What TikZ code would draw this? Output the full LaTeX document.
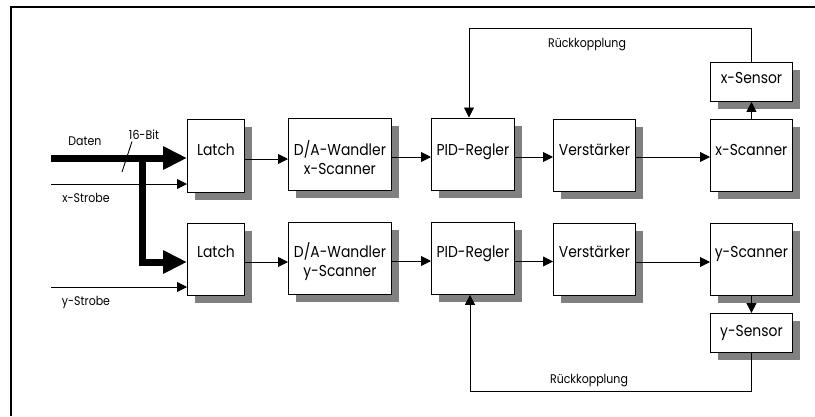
\documentclass[tikz,border=0pt]{standalone}
\usepackage{fontspec}
\setmainfont{Poppins}[FakeStretch=0.88]
\usetikzlibrary{arrows.meta,shadows}
\begin{document}
\begin{tikzpicture}[x=1pt,y=-1pt,
  blk/.style={draw=black, fill=white, line width=0.9pt, inner sep=0pt, anchor=north west,
    copy shadow={shadow xshift=8pt, shadow yshift=-8pt, fill=black!50, draw=none}},
  boxtext/.style={font=\fontsize{15.8}{19.5}\selectfont, align=center, inner sep=0pt, anchor=base},
  lbl/.style={font=\fontsize{12.5}{15}\selectfont, inner sep=0pt, anchor=base},
  wire/.style={line width=0.9pt},
  conn/.style={wire, -{Triangle[length=10pt,width=10pt]}},
  bus/.style={line width=7pt, -{Triangle[length=24pt,width=22pt]}},
]
\useasboundingbox (0,0) rectangle (815,416);
% open frame (left and top edges)
\draw[line width=2pt, line join=miter] (11,416) -- (11,6.5) -- (815,6.5);

% \blockbox{name}{left}{top}{right}{bottom}
\newcommand\blockbox[5]{%
  \node[blk, minimum width={(#4-#2)*1pt}, minimum height={(#5-#3)*1pt}] (#1) at (#2,#3) {};}

% upper channel
\blockbox{l1}{187}{119}{244}{192}
\blockbox{d1}{288}{117.5}{391}{190}
\blockbox{p1}{431}{117.5}{514}{190}
\blockbox{v1}{553}{118.5}{635}{191}
\blockbox{xs}{710}{118.5}{792}{191}
\blockbox{xsen}{710}{61.5}{792}{101}
% lower channel
\blockbox{l2}{187}{223}{244}{295}
\blockbox{d2}{288}{222}{391}{294}
\blockbox{p2}{431}{222}{514}{294}
\blockbox{v2}{553}{222.5}{635}{295}
\blockbox{ys}{710}{222.5}{792}{295}
\blockbox{ysen}{710}{313}{792}{352}

% block captions (two-line captions sit on the baseline of their last line)
\node[boxtext] (tl1) at (l1.center |- 0,155) {Latch};
\node[boxtext] (td1) at (d1.center |- 0,174.5) {D/A-Wandler\\x-Scanner};
\node[boxtext] (tp1) at (p1.center |- 0,155) {PID-Regler};
\node[boxtext] (tv1) at (v1.center |- 0,155) {Verstärker};
\node[boxtext] (txs) at (xs.center |- 0,155) {x-Scanner};
\node[boxtext] (txsen) at (xsen.center |- 0,83.5) {x-Sensor};
\node[boxtext] (tl2) at (l2.center |- 0,257) {Latch};
\node[boxtext] (td2) at (d2.center |- 0,276.5) {D/A-Wandler\\y-Scanner};
\node[boxtext] (tp2) at (p2.center |- 0,257) {PID-Regler};
\node[boxtext] (tv2) at (v2.center |- 0,257) {Verstärker};
\node[boxtext] (tys) at (ys.center |- 0,257) {y-Scanner};
\node[boxtext] (tysen) at (ysen.center |- 0,336) {y-Sensor};

% inputs
\coordinate (datin) at (51,158);
\coordinate (split) at (142,158);
\coordinate (xstr) at (51,184);
\coordinate (ystr) at (51,287);
\coordinate (slashA) at (132,141.5);
\coordinate (slashB) at (122,172);
\draw[bus] (datin) -- (l1.west |- datin);
\draw[bus, line join=miter] (split) |- (l2.west |- 0,262);
\draw[conn] (xstr) -- (l1.west |- xstr);
\draw[conn] (ystr) -- (l2.west |- ystr);
\draw[wire] (slashA) -- (slashB);
\node[lbl] (ldaten) at (85,145.3) {Daten};
\node[lbl] (lbit) at (144,139.3) {16-Bit};
\node[lbl] (lxstr) at (86,202) {x-Strobe};
\node[lbl] (lystr) at (86,305.3) {y-Strobe};

% signal chain, upper
\draw[conn] (l1.east |- 0,159) -- (d1.west |- 0,159);
\draw[conn] (d1.east |- 0,157) -- (p1.west |- 0,157);
\draw[conn] (p1.east |- 0,157) -- (v1.west |- 0,157);
\draw[conn] (v1.east |- 0,157) -- (xs.west |- 0,157);
\draw[conn] (xs.north) -- (xsen.south);
\draw[conn] (xsen.north) |- (469,28) -- (p1.north -| 469,0);
\node[lbl] (lfb1) at (587,47.3) {Rückkopplung};

% signal chain, lower
\draw[conn] (l2.east |- 0,262) -- (d2.west |- 0,262);
\draw[conn] (d2.east |- 0,261) -- (p2.west |- 0,261);
\draw[conn] (p2.east |- 0,261.5) -- (v2.west |- 0,261.5);
\draw[conn] (v2.east |- 0,262) -- (ys.west |- 0,262);
\draw[conn] (ys.south) -- (ysen.north);
\draw[conn] (ysen.south) |- (470,391) -- (p2.south -| 470,0);
\node[lbl] (lfb2) at (589,383.3) {Rückkopplung};
\end{tikzpicture}
\end{document}
